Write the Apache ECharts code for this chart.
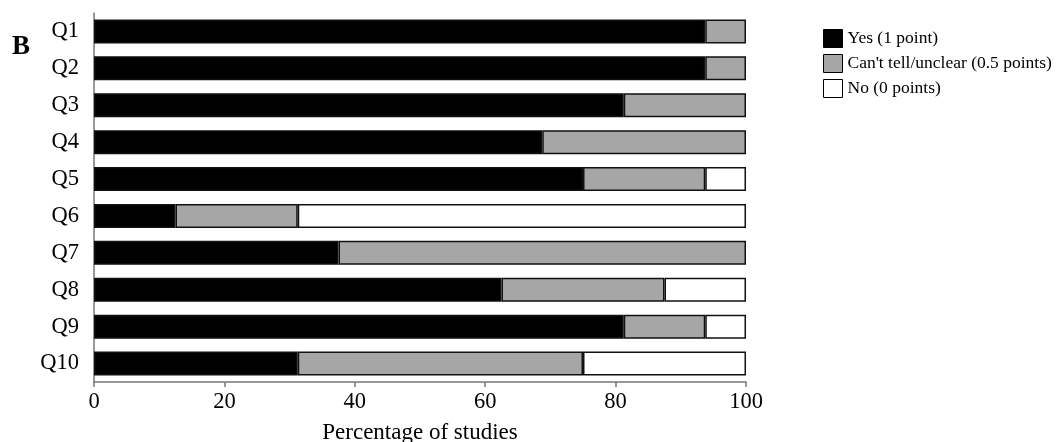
<!DOCTYPE html>
<html>
<head>
<meta charset="utf-8">
<script src="https://cdn.jsdelivr.net/npm/echarts@6/dist/echarts.min.js"></script>
<style>
  html, body { margin: 0; padding: 0; background: #fff; }
  #chart { width: 1056px; height: 442px; }
</style>
</head>
<body>
<div id="chart"></div>
<script>
// Quality-assessment answers per question, as percentage of studies
const questions = ['Q1', 'Q2', 'Q3', 'Q4', 'Q5', 'Q6', 'Q7', 'Q8', 'Q9', 'Q10'];
const yesValues = [93.75, 93.75, 81.25, 68.75, 75, 12.5, 37.5, 62.5, 81.25, 31.25];
const unclearValues = [6.25, 6.25, 18.75, 31.25, 18.75, 18.75, 62.5, 25, 12.5, 43.75];
const noValues = [0, 0, 0, 0, 6.25, 68.75, 0, 12.5, 6.25, 25];
const xTicks = [0, 20, 40, 60, 80, 100];

const serif = '"Liberation Serif", "Times New Roman", serif';
const chart = echarts.init(document.getElementById('chart'));

function barSeries(name, values, color) {
  return {
    name: name,
    type: 'bar',
    stack: 'total',
    // empty segments are skipped so no zero-width outline is drawn
    data: values.map(v => (v === 0 ? '-' : v)),
    barWidth: 24,
    itemStyle: { color: color, borderColor: '#111', borderWidth: 1.5 },
    emphasis: { disabled: true }
  };
}

chart.setOption({
  animation: false,
  graphic: [{
    type: 'text', left: 12, top: 34,
    style: { text: 'B', font: 'bold 27px ' + serif, fill: '#000' }
  }],
  legend: {
    orient: 'vertical', left: 818, top: 24,
    itemWidth: 19, itemHeight: 18, itemGap: 6,
    icon: 'rect',
    textStyle: { fontFamily: serif, fontSize: 17.5, color: '#000' },
    itemStyle: { borderColor: '#000', borderWidth: 1 }
  },
  grid: { left: 94, right: 310, top: 13, bottom: 60, outerBoundsMode: 'none', containLabel: false },
  xAxis: {
    type: 'value', min: 0, max: 100, interval: 20,
    name: 'Percentage of studies', nameLocation: 'middle', nameGap: 39,
    nameTextStyle: { fontFamily: serif, fontSize: 23, color: '#000' },
    axisLine: { show: true, lineStyle: { color: '#777', width: 1.5 } },
    axisTick: { show: true, length: 5, lineStyle: { color: '#777', width: 1.5 } },
    axisLabel: {
      fontFamily: serif, fontSize: 22.5, color: '#000', margin: 9,
      formatter: v => xTicks.includes(v) ? String(v) : ''
    },
    splitLine: { show: false }
  },
  yAxis: {
    type: 'category', inverse: true, data: questions,
    axisLine: { show: true, lineStyle: { color: '#777', width: 1.5 } },
    axisTick: { show: false },
    axisLabel: { fontFamily: serif, fontSize: 22.5, color: '#000', margin: 15 }
  },
  series: [
    barSeries('Yes (1 point)', yesValues, '#000000'),
    barSeries("Can't tell/unclear (0.5 points)", unclearValues, '#a6a6a6'),
    barSeries('No (0 points)', noValues, '#ffffff')
  ]
});
</script>
</body>
</html>
